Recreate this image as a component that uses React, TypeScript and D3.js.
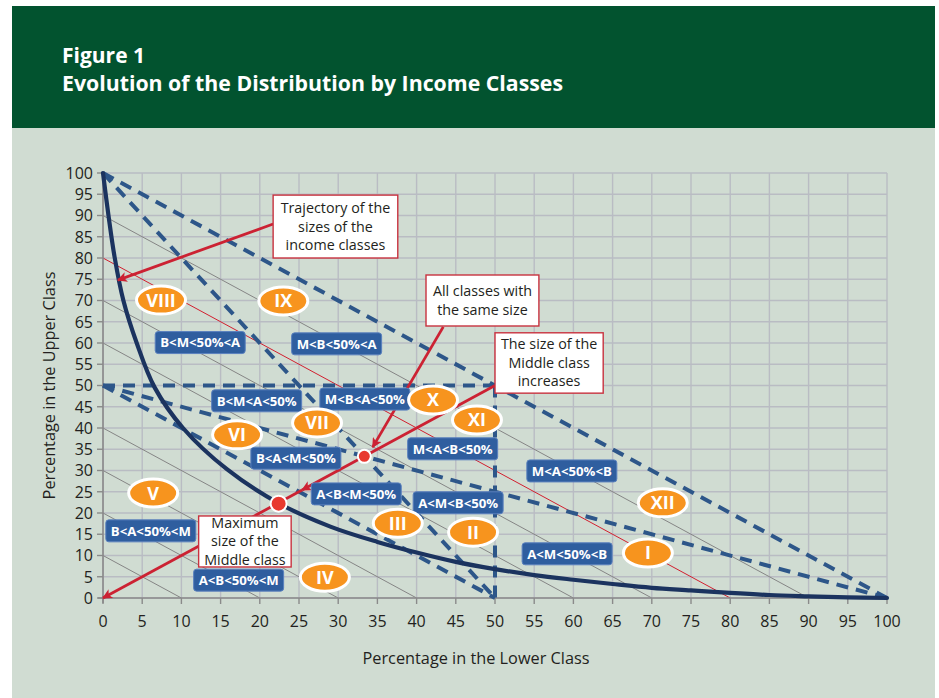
import React from "react";
import * as d3 from "d3";

// ---------- data ----------
const tickValues = [0, 5, 10, 15, 20, 25, 30, 35, 40, 45, 50, 55, 60, 65, 70, 75, 80, 85, 90, 95, 100];

// trajectory of the sizes of the income classes (Lower %, Upper %)
const curveLower = [0, 0.7, 1.5, 2.6, 4.3, 6.6, 10.2, 15.8, 22.4, 29, 35, 40, 45, 50, 55, 60, 65, 70, 75, 80, 85, 90, 95, 100];
const curveUpper = [100, 90, 80, 70, 60, 49.5, 40, 30.3, 22.3, 16.8, 13.2, 10.7, 8.5, 6.8, 5.4, 4.3, 3.3, 2.4, 1.8, 1.2, 0.7, 0.4, 0.15, 0];

// iso lines Lower + Upper = c
const isoGray = [10, 20, 30, 40, 60, 70, 90];
const isoRed = [80];

// dashed boundaries [x1, y1, x2, y2]
const boundaries: number[][] = [
  [0, 100, 100, 0], // M = 0
  [0, 100, 50, 0], // M = B
  [0, 50, 100, 0], // M = A
  [0, 50, 50, 0], // M = 50%
  [0, 50, 50, 50], // A = 50%
  [50, 50, 50, 0], // B = 50%
];

const numerals = ["I", "II", "III", "IV", "V", "VI", "VII", "VIII", "IX", "X", "XI", "XII"];
const numeralX = [69.5, 47.2, 37.6, 28.3, 6.4, 17.1, 27.3, 7.4, 23.0, 42.1, 47.7, 71.4];
const numeralY = [10.6, 15.5, 17.6, 4.9, 24.7, 38.4, 41.2, 70.1, 69.9, 46.6, 41.9, 22.4];

const regionLabels = [
  "B<M<50%<A", "M<B<50%<A", "B<M<A<50%", "M<B<A<50%", "B<A<M<50%", "A<B<M<50%",
  "M<A<B<50%", "A<M<B<50%", "M<A<50%<B", "A<M<50%<B", "B<A<50%<M", "A<B<50%<M",
];
const regionX = [12.4, 29.8, 19.6, 33.4, 24.6, 32.3, 44.6, 45.3, 59.8, 59.2, 6.1, 17.3];
const regionY = [60.1, 59.8, 46.4, 46.8, 32.9, 24.5, 35.1, 22.4, 29.9, 10.4, 15.8, 4.2];

// annotation boxes: [x0, y0(top), x1, y1(bottom)] in data units
const noteLines = [
  ["Trajectory of the", "sizes of the", "income classes"],
  ["All classes with", "the same size"],
  ["The size of the", "Middle class", "increases"],
  ["Maximum", "size of the", "Middle class"],
];
const noteBoxes = [
  [21.7, 94.8, 37.6, 80],
  [41.2, 76, 55.6, 64],
  [50, 62.4, 63.8, 48.2],
  [12.2, 19.3, 24.0, 7.3],
];

// arrows [x1, y1, x2, y2] (head at second point)
const arrows = [
  [21.7, 88, 1.9, 74.8],
  [43.4, 63.8, 34.4, 35.5],
  [50, 50, 25.4, 25.4],
  [25.4, 25.4, 0, 0],
];

// points: equal sizes, maximum middle class
const dotX = [33.33, 22.4];
const dotY = [33.33, 22.2];
const dotR = [6.5, 8];

// ---------- component ----------
export default function App() {
  const W = 939, H = 698;
  const x = d3.scaleLinear().domain([0, 100]).range([103, 887]);
  const y = d3.scaleLinear().domain([0, 100]).range([598, 173]);

  const curvePts: [number, number][] = curveLower.map((v, i) => [v, curveUpper[i]]);
  const line = d3
    .line<[number, number]>()
    .x((d) => x(d[0]))
    .y((d) => y(d[1]))
    .curve(d3.curveCatmullRom.alpha(0.5));

  const font = "'Open Sans', 'Noto Sans', sans-serif";
  const gridColor = "#b9bcc3";
  const dashColor = "#2d5689";
  const redColor = "#cc2233";

  return (
    <div style={{ position: "absolute", left: 0, top: 0 }}>
      <svg width={W} height={H} style={{ display: "block", fontFamily: font }}>
        <defs>
          <marker id="arrowRed" viewBox="0 0 10 10" refX="9" refY="5" markerWidth="11" markerHeight="10" markerUnits="userSpaceOnUse" orient="auto">
            <path d="M0,0 L10,5 L0,10 L2.5,5 Z" fill={redColor} />
          </marker>
        </defs>
        <rect x={0} y={0} width={W} height={H} fill="#ffffff" />
        <rect x={12} y={128} width={923} height={H - 128} fill="#d0dcd2" />
        <rect x={12} y={6} width={923} height={122} fill="#02532f" />
        <text x={62} y={63} fill="#fff" fontSize={22} fontWeight={700} textLength={83} lengthAdjust="spacingAndGlyphs">
          Figure 1
        </text>
        <text x={62} y={91} fill="#fff" fontSize={22} fontWeight={700} textLength={501} lengthAdjust="spacingAndGlyphs">
          Evolution of the Distribution by Income Classes
        </text>

        {/* grid */}
        {tickValues.map((t) => (
          <g key={"g" + t}>
            <line x1={x(t)} x2={x(t)} y1={y(0)} y2={y(100)} stroke={gridColor} strokeWidth={1.4} />
            <line x1={x(0)} x2={x(100)} y1={y(t)} y2={y(t)} stroke={gridColor} strokeWidth={1.4} />
          </g>
        ))}

        {/* iso lines */}
        {isoGray.map((c) => (
          <line key={"iso" + c} x1={x(0)} y1={y(c)} x2={x(c)} y2={y(0)} stroke="#858585" strokeWidth={1} />
        ))}
        {isoRed.map((c) => (
          <line key={"isor" + c} x1={x(0)} y1={y(c)} x2={x(c)} y2={y(0)} stroke="#d21f2f" strokeWidth={1} />
        ))}

        {/* axes */}
        <line x1={x(0)} x2={x(0)} y1={y(0) + 5} y2={y(100)} stroke="#8a8a8a" strokeWidth={1.6} />
        <line x1={x(0) - 5} x2={x(100)} y1={y(0)} y2={y(0)} stroke="#8a8a8a" strokeWidth={1.6} />
        {tickValues.map((t) => (
          <g key={"t" + t}>
            <line x1={x(0) - 6} x2={x(0)} y1={y(t)} y2={y(t)} stroke="#8a8a8a" strokeWidth={1.4} />
            <line x1={x(t)} x2={x(t)} y1={y(0)} y2={y(0) + 6} stroke="#8a8a8a" strokeWidth={1.4} />
            <text x={x(0) - 10} y={y(t)} dy="0.36em" textAnchor="end" fontSize={16} fill="#231f20">
              {t}
            </text>
            <text x={x(t)} y={627} textAnchor="middle" fontSize={16} fill="#231f20">
              {t}
            </text>
          </g>
        ))}
        <text x={476} y={664} textAnchor="middle" fontSize={16.3} fill="#231f20">
          Percentage in the Lower Class
        </text>
        <text transform={`translate(55, ${(y(0) + y(100)) / 2}) rotate(-90)`} textAnchor="middle" fontSize={16.3} fill="#231f20">
          Percentage in the Upper Class
        </text>

        {/* dashed boundaries */}
        {boundaries.map((b, i) => (
          <line key={"b" + i} x1={x(b[0])} y1={y(b[1])} x2={x(b[2])} y2={y(b[3])} stroke={dashColor} strokeWidth={4} strokeDasharray="12 8" />
        ))}

        {/* trajectory curve */}
        <path d={line(curvePts) || ""} fill="none" stroke="#1b335f" strokeWidth={4.2} strokeLinecap="round" />

        {/* arrows */}
        {arrows.map((a, i) => (
          <line key={"a" + i} x1={x(a[0])} y1={y(a[1])} x2={x(a[2])} y2={y(a[3])} stroke={redColor} strokeWidth={2.8} markerEnd="url(#arrowRed)" />
        ))}

        {/* region labels */}
        {regionLabels.map((s, i) => (
          <g key={"r" + i} transform={`translate(${x(regionX[i])}, ${y(regionY[i])})`}>
            <rect x={-45} y={-11} width={90} height={22} rx={3} fill="#2f5e9f" stroke="#5a80be" strokeWidth={1} />
            <text textAnchor="middle" dy="0.36em" fontSize={13.2} fontWeight={700} fill="#fff">
              {s}
            </text>
          </g>
        ))}

        {/* numerals */}
        {numerals.map((s, i) => (
          <g key={"n" + i} transform={`translate(${x(numeralX[i])}, ${y(numeralY[i])})`}>
            <ellipse rx={24.5} ry={14} fill="#f7941e" stroke="#fff" strokeWidth={3} />
            <text textAnchor="middle" dy="0.36em" fontSize={18} fontWeight={700} fill="#fff">
              {s}
            </text>
          </g>
        ))}

        {/* dots */}
        {dotX.map((v, i) => (
          <circle key={"d" + i} cx={x(v)} cy={y(dotY[i])} r={dotR[i]} fill="#e8392f" stroke="#fff" strokeWidth={2} />
        ))}

        {/* annotation boxes */}
        {noteBoxes.map((b, i) => {
          const x0 = x(b[0]), x1 = x(b[2]), y0 = y(b[1]), y1 = y(b[3]);
          const n = noteLines[i].length;
          const cy = (y0 + y1) / 2;
          const lh = 18.5;
          return (
            <g key={"nb" + i}>
              <rect x={x0} y={y0} width={x1 - x0} height={y1 - y0} fill="#fff" stroke="#c8323f" strokeWidth={1.4} />
              {noteLines[i].map((t, j) => (
                <text key={j} x={(x0 + x1) / 2} y={cy + (j - (n - 1) / 2) * lh} dy="0.35em" textAnchor="middle" fontSize={14.3} fill="#231f20">
                  {t}
                </text>
              ))}
            </g>
          );
        })}
      </svg>
    </div>
  );
}
